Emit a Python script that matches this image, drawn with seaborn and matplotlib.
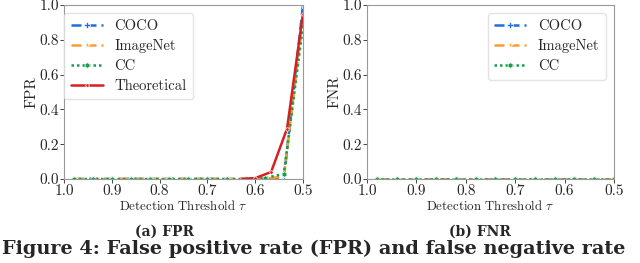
import numpy as np
import pandas as pd
import matplotlib
matplotlib.use("Agg")
import matplotlib.pyplot as plt
import seaborn as sns

# ==========================================================
# data
# ==========================================================

thresholds = [0.98, 0.94, 0.90, 0.86, 0.82, 0.78, 0.74, 0.70,
              0.66, 0.62, 0.58, 0.54, 0.50]

fpr_coco = [0, 0, 0, 0, 0, 0, 0, 0, 0, 0, 0, 0.0, 1.0]
fpr_imagenet = [0, 0, 0, 0, 0, 0, 0, 0, 0, 0, 0, 0.015, 0.93]
fpr_cc = [0, 0, 0, 0, 0, 0, 0, 0, 0, 0, 0.005, 0.03, 0.88]

theory_thresholds = [0.6333, 0.6, 0.5667, 0.5333, 0.5]
fpr_theory = [0.0, 0.005, 0.04, 0.29, 0.95]

fnr_coco = [0] * 13
fnr_imagenet = [0] * 13
fnr_cc = [0] * 13

x_ticks = [1.0, 0.9, 0.8, 0.7, 0.6, 0.5]
y_ticks = [0.0, 0.2, 0.4, 0.6, 0.8, 1.0]

# ==========================================================
# style
# ==========================================================

sns.set_style("ticks")
plt.rcParams["font.family"] = ["cmr10", "DejaVu Serif"]
plt.rcParams["mathtext.fontset"] = "cm"
plt.rcParams["axes.formatter.use_mathtext"] = True

colors = {
    "COCO": "#1f6fd6",
    "ImageNet": "#ff9a2e",
    "CC": "#17a04a",
    "Theoretical": "#d81e1e",
}

series_style = {
    "COCO": dict(linestyle=(0, (4, 2)), marker="P", markersize=4),
    "ImageNet": dict(linestyle=(0, (4, 2)), marker="*", markersize=5),
    "CC": dict(linestyle=(0, (1, 1.2)), marker="h", markersize=4),
    "Theoretical": dict(linestyle="-", marker=".", markersize=5),
}

FS = 11

fig = plt.figure(figsize=(6.4, 2.63), dpi=100)

ax1 = fig.add_axes([0.1, 0.3194, 0.3734, 0.6616])
ax2 = fig.add_axes([0.5734, 0.3194, 0.386, 0.6616])


def draw(ax, x, y, name):
    sns.lineplot(
        x=x,
        y=y,
        ax=ax,
        color=colors[name],
        linewidth=1.8,
        label=name,
        markeredgewidth=0.5,
        **series_style[name]
    )


draw(ax1, thresholds, fpr_coco, "COCO")
draw(ax1, thresholds, fpr_imagenet, "ImageNet")
draw(ax1, thresholds, fpr_cc, "CC")
draw(ax1, theory_thresholds, fpr_theory, "Theoretical")

draw(ax2, thresholds, fnr_coco, "COCO")
draw(ax2, thresholds, fnr_imagenet, "ImageNet")
draw(ax2, thresholds, fnr_cc, "CC")

for ax, ylab in [(ax1, "FPR"), (ax2, "FNR")]:
    ax.set_xlim(1.0, 0.5)
    ax.set_ylim(0.0, 1.0)
    ax.set_xticks(x_ticks)
    ax.set_yticks(y_ticks)
    ax.set_xticklabels([f"{t:.1f}" for t in x_ticks])
    ax.set_yticklabels([f"{t:.1f}" for t in y_ticks])
    ax.tick_params(labelsize=FS, length=3, width=0.6, pad=0.5)
    ax.set_xlabel(r"Detection Threshold $\tau$", fontsize=9.3, labelpad=1)
    ax.set_ylabel(ylab, fontsize=FS, labelpad=1)
    for sp in ax.spines.values():
        sp.set_color("#999999")
        sp.set_linewidth(0.8)

legend_kw = dict(
    fontsize=10.5,
    frameon=True,
    borderaxespad=0.0,
    handlelength=2.2,
    labelspacing=0.42,
    borderpad=0.45,
    edgecolor="#dddddd",
)
ax1.legend(loc="upper left", bbox_to_anchor=(0.0, 0.955), **legend_kw)
ax2.legend(loc="upper right", bbox_to_anchor=(0.968, 0.955), **legend_kw)

cap_font = ["DejaVu Serif", "Liberation Serif"]
fig.text(0.257, 0.118, "(a) FPR", ha="center", va="center",
         fontsize=10, fontweight="bold", family=cap_font)
fig.text(0.75, 0.118, "(b) FNR", ha="center", va="center",
         fontsize=10, fontweight="bold", family=cap_font)
fig.text(0.003, 0.035, "Figure 4: False positive rate (FPR) and false negative rate",
         ha="left", va="baseline", fontsize=13.9, fontweight="bold",
         family=cap_font)

fig.savefig("out.png", dpi=100)
